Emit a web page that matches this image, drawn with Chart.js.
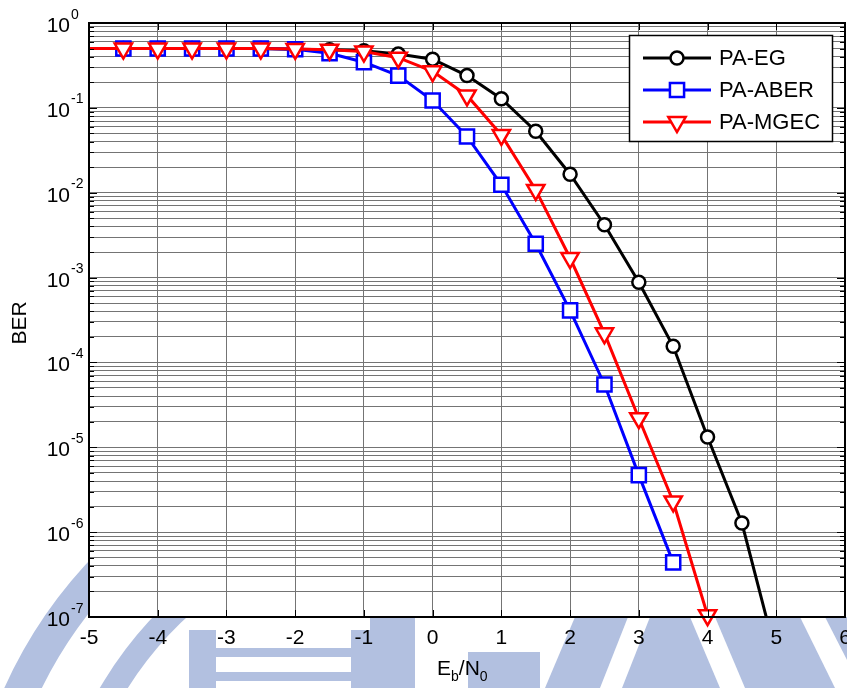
<!DOCTYPE html>
<html>
<head>
<meta charset="utf-8">
<script src="https://cdn.jsdelivr.net/npm/chart.js@4.4.0/dist/chart.umd.min.js"></script>
<style>
  html, body { margin: 0; padding: 0; background: #fff; overflow: hidden; }
  #wrap { width: 847px; height: 688px; }
</style>
</head>
<body>
<div id="wrap"><canvas id="c" width="847" height="688"></canvas></div>
<script>
// Eb/N0 in dB
const ebn0 = [-5, -4.5, -4, -3.5, -3, -2.5, -2, -1.5, -1, -0.5, 0, 0.5, 1, 1.5, 2, 2.5, 3, 3.5, 4, 4.5, 5];

// BER per scheme (each list follows ebn0 from -5 dB onward)
const berEG   = [0.5, 0.5, 0.5, 0.5, 0.5, 0.5, 0.49, 0.485, 0.47, 0.43, 0.375, 0.24, 0.128, 0.053, 0.0165, 0.0042, 8.8e-4, 1.55e-4, 1.32e-5, 1.28e-6, 3.5e-8];
const berABER = [0.5, 0.5, 0.5, 0.5, 0.5, 0.5, 0.49, 0.44, 0.345, 0.24, 0.122, 0.046, 0.0124, 0.0025, 4.1e-4, 5.5e-5, 4.7e-6, 4.4e-7];
const berMGEC = [0.5, 0.5, 0.5, 0.5, 0.5, 0.5, 0.495, 0.485, 0.46, 0.39, 0.27, 0.14, 0.048, 0.0108, 0.0017, 2.2e-4, 2.2e-5, 2.3e-6, 1.05e-7];

const seriesNames = ['PA-EG', 'PA-ABER', 'PA-MGEC'];
const xTickValues = [-5, -4, -3, -2, -1, 0, 1, 2, 3, 4, 5, 6];
const yDecades = [0, -1, -2, -3, -4, -5, -6, -7];

const FONT = '"Liberation Sans", Arial, Helvetica, sans-serif';
const GRID = '#747474';

function toPoints(ys) {
  return ys.map((y, i) => ({ x: ebn0[i], y }));
}

// grid at 1..9 x 10^n for every decade on the axis
function logGridValues() {
  const vals = [];
  for (let e = -7; e < 0; e++) {
    for (let k = 1; k <= 9; k++) vals.push(k * Math.pow(10, e));
  }
  vals.push(1);
  return vals;
}

// faint emblem printed behind the figure
const emblemPlugin = {
  id: 'emblem',
  beforeDraw(chart) {
    const ctx = chart.ctx;
    const a = chart.chartArea;
    const tint = 'rgb(178,192,224)';
    ctx.save();
    ctx.fillStyle = '#fff';
    ctx.fillRect(0, 0, chart.width, chart.height);
    ctx.strokeStyle = tint;
    ctx.fillStyle = tint;
    // rings
    ctx.lineWidth = 34;
    ctx.beginPath();
    ctx.arc(430, 880, 450, 0, Math.PI * 2);
    ctx.stroke();
    ctx.lineWidth = 24;
    ctx.beginPath();
    ctx.arc(430, 880, 370, Math.PI * 1.05, Math.PI * 1.3);
    ctx.stroke();
    // glyph strokes in the middle
    ctx.fillRect(189, 630, 27, 60);
    ctx.fillRect(216, 648, 140, 9);
    ctx.fillRect(216, 672, 140, 9);
    ctx.fillRect(351, 630, 27, 60);
    ctx.fillRect(370, 617, 45, 75);
    ctx.fillRect(468, 652, 72, 40);
    // right-hand block with light diagonal cuts
    ctx.beginPath();
    ctx.moveTo(545, 688); ctx.lineTo(575, 617); ctx.lineTo(847, 617); ctx.lineTo(847, 688);
    ctx.closePath();
    ctx.fill();
    ctx.fillStyle = '#fff';
    ctx.beginPath();
    ctx.moveTo(600, 688); ctx.lineTo(628, 617); ctx.lineTo(650, 617); ctx.lineTo(622, 688);
    ctx.closePath();
    ctx.fill();
    ctx.beginPath();
    ctx.moveTo(690, 617); ctx.lineTo(715, 617); ctx.lineTo(745, 688); ctx.lineTo(720, 688);
    ctx.closePath();
    ctx.fill();
    ctx.beginPath();
    ctx.moveTo(800, 617); ctx.lineTo(825, 617); ctx.lineTo(847, 660); ctx.lineTo(847, 688); ctx.lineTo(835, 688);
    ctx.closePath();
    ctx.fill();
    ctx.restore();
    // plotting area stays white
    ctx.save();
    ctx.fillStyle = '#fff';
    ctx.fillRect(a.left, a.top, a.right - a.left, a.bottom - a.top);
    ctx.restore();
  }
};

// axes box, inward ticks, tick labels and axis titles
const framePlugin = {
  id: 'frame',
  afterDatasetsDraw(chart) {
    const ctx = chart.ctx;
    const a = chart.chartArea;
    const xs = chart.scales.x, ys = chart.scales.y;
    ctx.save();
    ctx.strokeStyle = '#000';
    ctx.lineWidth = 1;
    ctx.beginPath();
    xTickValues.forEach(v => {
      const px = Math.round(xs.getPixelForValue(v)) + 0.5;
      ctx.moveTo(px, a.bottom); ctx.lineTo(px, a.bottom - 7);
      ctx.moveTo(px, a.top); ctx.lineTo(px, a.top + 7);
    });
    logGridValues().forEach(v => {
      const py = Math.round(ys.getPixelForValue(v)) + 0.5;
      const major = Math.abs(Math.log10(v) - Math.round(Math.log10(v))) < 1e-9;
      const len = major ? 8 : 5;
      ctx.moveTo(a.left, py); ctx.lineTo(a.left + len, py);
      ctx.moveTo(a.right, py); ctx.lineTo(a.right - len, py);
    });
    ctx.stroke();
    ctx.lineWidth = 2;
    ctx.strokeRect(a.left, a.top, a.right - a.left, a.bottom - a.top);

    ctx.fillStyle = '#000';
    ctx.textBaseline = 'alphabetic';

    // x tick labels
    ctx.font = '21px ' + FONT;
    ctx.textAlign = 'center';
    xTickValues.forEach(v => {
      ctx.fillText(String(v), xs.getPixelForValue(v), 644);
    });

    // y tick labels 10^n
    yDecades.forEach(e => {
      const py = ys.getPixelForValue(Math.pow(10, e));
      ctx.font = '21px ' + FONT;
      ctx.textAlign = 'right';
      ctx.fillText('10', 70, py + 9);
      ctx.font = '14px ' + FONT;
      ctx.textAlign = 'left';
      ctx.fillText(String(e), 71, py - 4.5);
    });

    // axis titles
    ctx.save();
    ctx.translate(26, 323);
    ctx.rotate(-Math.PI / 2);
    ctx.font = '21px ' + FONT;
    ctx.textAlign = 'center';
    ctx.fillText('BER', 0, 0);
    ctx.restore();

    let x = 437;
    const base = 675;
    ctx.textAlign = 'left';
    const parts = [['E', 21, 0], ['b', 14, 6], ['/N', 21, 0], ['0', 14, 6]];
    parts.forEach(([t, s, dy]) => {
      ctx.font = s + 'px ' + FONT;
      ctx.fillText(t, x, base + dy);
      x += ctx.measureText(t).width;
    });
    ctx.restore();
  },
  afterDraw(chart) {
    // legend box with line-and-marker samples
    const ctx = chart.ctx;
    const bx = 629, by = 35, bw = 203, bh = 106;
    ctx.save();
    ctx.fillStyle = '#fff';
    ctx.fillRect(bx, by, bw, bh);
    ctx.strokeStyle = '#000';
    ctx.lineWidth = 1.5;
    ctx.strokeRect(bx + 0.5, by + 0.5, bw, bh);
    const rows = [58, 90, 122];
    chart.data.datasets.forEach((ds, i) => {
      const y = rows[i];
      ctx.strokeStyle = ds.borderColor;
      ctx.lineWidth = ds.borderWidth;
      ctx.beginPath();
      ctx.moveTo(643, y); ctx.lineTo(711, y);
      ctx.stroke();
      ctx.fillStyle = '#fff';
      ctx.strokeStyle = ds.borderColor;
      ctx.lineWidth = ds.pointBorderWidth;
      Chart.helpers.drawPoint(ctx, {
        pointStyle: ds.pointStyle,
        rotation: ds.pointRotation || 0,
        radius: ds.markerSize,
        borderWidth: ds.pointBorderWidth
      }, 677, y);
      ctx.fillStyle = '#000';
      ctx.font = '22px ' + FONT;
      ctx.textAlign = 'left';
      ctx.textBaseline = 'middle';
      ctx.fillText(seriesNames[i], 719, y + 1);
    });
    ctx.restore();
  }
};

function series(label, ys, color, style, size, rotation, clip, order) {
  return {
    label,
    data: toPoints(ys),
    borderColor: color,
    backgroundColor: '#fff',
    borderWidth: 3,
    pointStyle: style,
    pointRotation: rotation,
    markerSize: size,
    pointRadius: c => (c.dataIndex === 0 ? 0 : size),
    pointBorderWidth: 2.5,
    pointBackgroundColor: '#fff',
    pointBorderColor: color,
    tension: 0,
    clip,
    order
  };
}

new Chart(document.getElementById('c'), {
  type: 'line',
  data: {
    datasets: [
      series(seriesNames[0], berEG, '#000000', 'circle', 6.5, 0, undefined, 3),
      series(seriesNames[1], berABER, '#0000ff', 'rect', 10, 0, undefined, 2),
      series(seriesNames[2], berMGEC, '#ff0000', 'triangle', 10, 180, false, 1)
    ]
  },
  plugins: [emblemPlugin, framePlugin],
  options: {
    responsive: false,
    devicePixelRatio: 1,
    animation: false,
    events: [],
    layout: { autoPadding: false, padding: { top: 23, right: 2, left: 0, bottom: 0 } },
    plugins: { legend: { display: false }, tooltip: { enabled: false } },
    scales: {
      x: {
        type: 'linear',
        min: -5,
        max: 6,
        afterBuildTicks: s => { s.ticks = xTickValues.map(v => ({ value: v })); },
        afterFit: s => { s.height = 71; s.paddingLeft = 0; s.paddingRight = 0; },
        ticks: { display: false },
        grid: { color: GRID, lineWidth: 1, drawTicks: false },
        border: { display: false }
      },
      y: {
        type: 'logarithmic',
        min: 1e-7,
        max: 1,
        afterBuildTicks: s => { s.ticks = logGridValues().map(v => ({ value: v })); },
        afterFit: s => { s.width = 89; s.paddingTop = 0; s.paddingBottom = 0; },
        ticks: { display: false },
        grid: { color: GRID, lineWidth: 1, drawTicks: false },
        border: { display: false }
      }
    }
  }
});
</script>
</body>
</html>
